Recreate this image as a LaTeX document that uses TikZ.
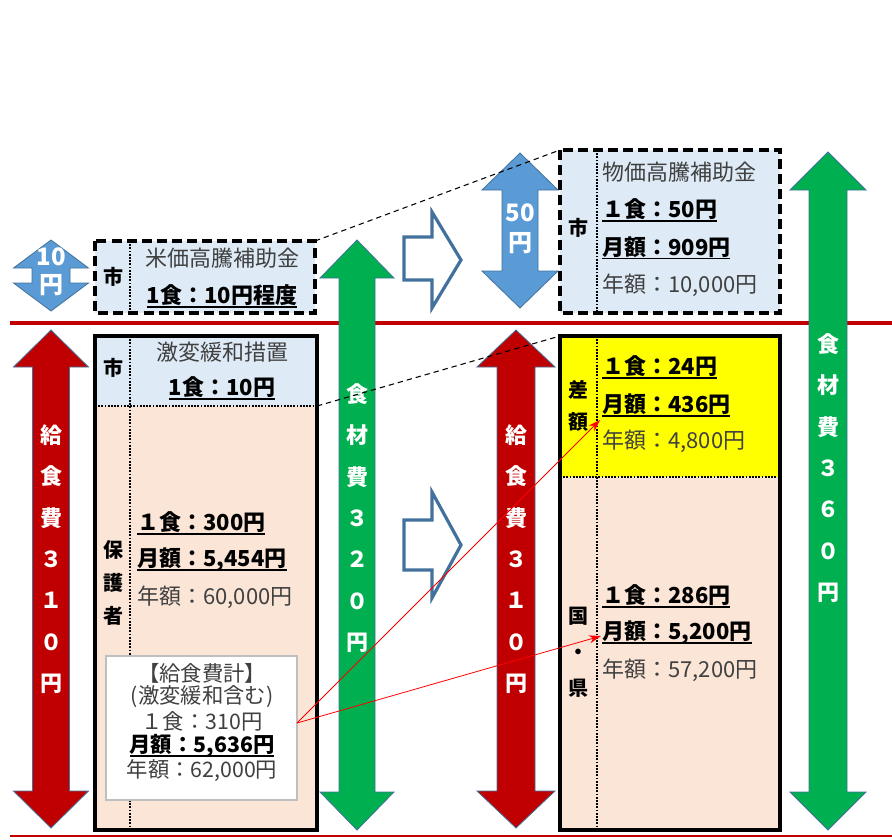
\documentclass[tikz,border=0pt]{standalone}
\usepackage{fontspec}
\setmainfont{Noto Sans CJK JP}
\usetikzlibrary{arrows.meta}
\definecolor{redA}{HTML}{C00000}
\definecolor{greenA}{HTML}{00B050}
\definecolor{blueA}{HTML}{5B9BD5}
\definecolor{edgeA}{HTML}{41719C}
\definecolor{lblue}{HTML}{DEEBF7}
\definecolor{peach}{HTML}{FBE5D6}
\definecolor{yellowA}{HTML}{FFFF00}
\definecolor{txtgray}{HTML}{404040}
\newcommand\ulx[1]{\setbox0\hbox{#1}\rlap{\rule[-3.2pt]{\wd0}{1.3pt}}\box0}
% vertical double arrow: cx, top, bottom, headhalf, shafthalf, headlen, fill
\newcommand\vdarrow[7]{%
  \filldraw[fill=#7, draw=edgeA, line width=0.6pt]
    (#1,#2) -- ({#1+#4},{#2+#6}) -- ({#1+#5},{#2+#6}) -- ({#1+#5},{#3-#6})
    -- ({#1+#4},{#3-#6}) -- (#1,#3) -- ({#1-#4},{#3-#6}) -- ({#1-#5},{#3-#6})
    -- ({#1-#5},{#2+#6}) -- ({#1-#4},{#2+#6}) -- cycle;}
% outline right block arrow: x0, xh, xt, shafttop, shaftbot, headtop, headbot, tipy
\newcommand\rblock[8]{%
  \draw[edgeA, line width=2.4pt, fill=white, line join=miter]
    (#1,#4) -- (#2,#4) -- (#2,#6) -- (#3,#8) -- (#2,#7) -- (#2,#5) -- (#1,#5) -- cycle;}
\tikzset{
  dashbox/.style={draw=black, line width=2.3pt, dash pattern=on 7.5pt off 3.8pt, fill=lblue},
  solidbox/.style={draw=black, line width=2.4pt},
  dotline/.style={line width=1.6pt, dash pattern=on 1.3pt off 1.1pt},
  thindash/.style={line width=0.8pt, dash pattern=on 4pt off 3pt},
  gtxt/.style={text=txtgray, font=\fontsize{16.5}{18}\selectfont, inner sep=0pt},
  btxt/.style={text=black, font=\fontsize{16.5}{18}\selectfont\bfseries, inner sep=0pt},
  lbl/.style={text=black, font=\fontsize{15}{20}\selectfont\bfseries, inner sep=0pt, align=center},
  vtxt/.style={text=white, font=\fontsize{16.5}{31}\selectfont\bfseries, inner sep=0pt, align=center},
  wtxt/.style={text=white, font=\fontsize{18}{19}\selectfont\bfseries, inner sep=0pt},
  redarrow/.style={draw=red, line width=0.6pt, -{Stealth[length=9pt,width=6pt]}},
}
\begin{document}
\begin{tikzpicture}[x=0.75pt,y=-0.75pt]
\useasboundingbox (0,0) rectangle (892,839);
% red horizontal lines
\draw[redA, line width=2.4pt] (10,323) -- (892,323);
\draw[redA, line width=1.5pt] (10,836) -- (892,836);

% ---------- left top box ----------
\path[dashbox] (95,241) rectangle (315,313);
\draw[dotline] (130,241) -- (130,313);
\node[lbl] (ltcity) at (113,277) {市};
\node[gtxt] (ltname) at (222,258) {米価高騰補助金};
\node[btxt] (ltval) at (222,296) {\ulx{1食：10円程度}};

% ---------- left main box ----------
\fill[lblue] (95,336) rectangle (317,406);
\fill[peach] (95,406) rectangle (317,830);
\draw[dotline] (95,406) -- (317,406);
\draw[dotline] (130,336) -- (130,830);
\draw[solidbox] (95,336) rectangle (317,830);
\node[lbl] (lmcity) at (113,368) {市};
\node[gtxt] (lmname) at (222,352) {激変緩和措置};
\node[btxt] (lmval) at (222,388) {\ulx{1食：10円}};
\node[lbl, font=\fontsize{15}{25}\selectfont\bfseries] (lmguard) at (113,583) {保\\護\\者};
\node[btxt, anchor=west] (lm1) at (137,523) {\ulx{１食：300円}};
\node[btxt, anchor=west] (lm2) at (137,560) {\ulx{月額：5,454円}};
\node[gtxt, anchor=west] (lm3) at (137,597) {年額：60,000円};

% white summary box
\filldraw[fill=white, draw=black!25, line width=0.8pt] (106,656) rectangle (297,800);
\node[text=txtgray, font=\fontsize{16}{18}\selectfont, inner sep=0pt] (s1) at (202,673) {【給食費計】};
\node[text=txtgray, font=\fontsize{16}{18}\selectfont, inner sep=0pt] (s2) at (202,697) {(激変緩和含む)};
\node[text=txtgray, font=\fontsize{16}{18}\selectfont, inner sep=0pt] (s3) at (202,721) {１食：310円};
\node[text=black, font=\fontsize{16}{18}\selectfont\bfseries, inner sep=0pt] (s4) at (202,746) {\ulx{月額：5,636円}};
\node[text=txtgray, font=\fontsize{16}{18}\selectfont, inner sep=0pt] (s5) at (202,771) {年額：62,000円};
\coordinate (sumE) at (297,723);

% ---------- right top box ----------
\path[dashbox] (560,150) rectangle (780,313);
\draw[dotline] (597,150) -- (597,313);
\node[lbl] (rtcity) at (578,228) {市};
\node[gtxt, anchor=west] (rtname) at (602,172) {物価高騰補助金};
\node[btxt, anchor=west] (rt1) at (602,210) {\ulx{１食：50円}};
\node[btxt, anchor=west] (rt2) at (602,248) {\ulx{月額：909円}};
\node[gtxt, anchor=west] (rt3) at (602,285) {年額：10,000円};

% ---------- right main box ----------
\fill[yellowA] (560,336) rectangle (780,477);
\fill[peach] (560,477) rectangle (780,830);
\draw[dotline] (560,477) -- (780,477);
\draw[dotline] (597,336) -- (597,830);
\draw[solidbox] (560,336) rectangle (780,830);
\node[lbl, font=\fontsize{15}{24}\selectfont\bfseries] (rdiff) at (578,406) {差\\額};
\node[btxt, anchor=west] (rd1) at (602,367) {\ulx{１食：24円}};
\node[btxt, anchor=west] (rd2) at (602,405) {\ulx{月額：436円}};
\node[gtxt, anchor=west] (rd3) at (602,441) {年額：4,800円};
\node[lbl, font=\fontsize{15}{27}\selectfont\bfseries] (rgov) at (578,652) {国\\・\\県};
\node[btxt, anchor=west] (rg1) at (602,596) {\ulx{１食：286円}};
\node[btxt, anchor=west] (rg2) at (602,633) {\ulx{月額：5,200円}};
\node[gtxt, anchor=west] (rg3) at (602,670) {年額：57,200円};
\coordinate (tgtA) at (600,420);
\coordinate (tgtB) at (601,636);

% ---------- double arrows ----------
\vdarrow{51}{240}{311}{37.5}{19}{28}{blueA}
\node[wtxt] (a10) at (51,257) {10};
\node[wtxt] (a10y) at (51,285) {円};

\vdarrow{51}{330}{828}{37.5}{18.5}{37}{redA}
\node[vtxt] (lred) at (51,559) {給\\食\\費\\３\\１\\０\\円};

\vdarrow{357}{240}{830}{37}{18}{38}{greenA}
\node[vtxt] (mgreen) at (357,518) {食\\材\\費\\３\\２\\０\\円};

\vdarrow{520}{153}{308}{38}{18}{37}{blueA}
\node[wtxt] (a50) at (520,213) {50};
\node[wtxt] (a50y) at (520,243) {円};

\vdarrow{516}{330}{828}{39}{19}{37}{redA}
\node[vtxt] (rred) at (516,559) {給\\食\\費\\３\\１\\０\\円};

\vdarrow{828}{152}{830}{38}{19}{38}{greenA}
\node[vtxt] (rgreen) at (828,468) {食\\材\\費\\３\\６\\０\\円};

% ---------- block arrows ----------
\rblock{404}{432}{461}{237}{280}{212}{308}{260}
\rblock{404}{432}{461}{520}{570}{492}{598}{545}

% ---------- dashed guide lines ----------
\coordinate (ltNE) at (315,241);
\coordinate (rtNW) at (560,150);
\coordinate (lmDiv) at (317,406);
\coordinate (rmNW) at (560,336);
\draw[thindash] (ltNE) -- (rtNW);
\draw[thindash] (lmDiv) -- (rmNW);

% ---------- red pointer arrows ----------
\draw[redarrow] (sumE) -- (tgtA);
\draw[redarrow] (sumE) -- (tgtB);
\end{tikzpicture}
\end{document}
